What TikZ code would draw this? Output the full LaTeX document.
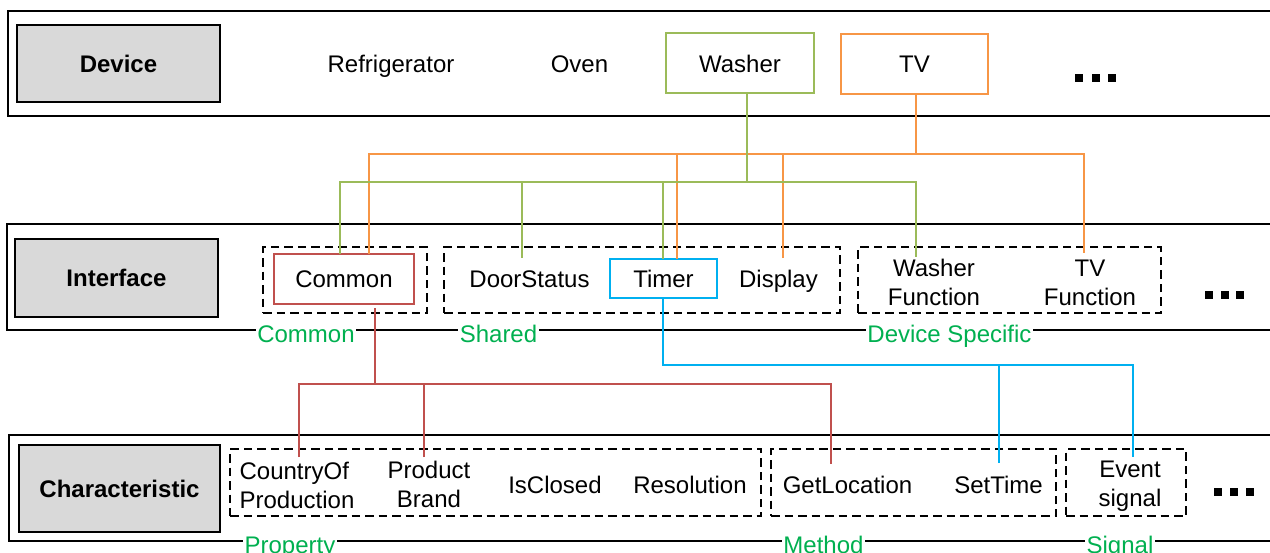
\documentclass[tikz,border=0pt]{standalone}
\usepackage{fontspec}
\setmainfont{Liberation Sans}
\definecolor{lgreen}{HTML}{9BBB59}
\definecolor{lorange}{HTML}{F79646}
\definecolor{lred}{HTML}{C0504D}
\definecolor{lblue}{HTML}{00B0F0}
\definecolor{tgreen}{HTML}{00B050}
\definecolor{lgray}{HTML}{D9D9D9}
\begin{document}
\begin{tikzpicture}[x=1pt,y=-1pt,
  every node/.style={inner sep=0pt, outer sep=0pt, font=\fontsize{24}{29}\selectfont},
  band/.style={draw=black, line width=2pt, anchor=north west, minimum width=1300pt},
  layer/.style={draw=black, fill=lgray, line width=2pt, font=\fontsize{24}{29}\selectfont\bfseries},
  devbox/.style={draw=#1, line width=2pt, anchor=base},
  group/.style={draw=black, dash pattern=on 8.5pt off 5pt, line width=1.8pt, minimum height=66pt},
  word/.style={anchor=base},
  twoline/.style={anchor=north, align=center},
  tag/.style={anchor=base, fill=white, text=tgreen, inner xsep=1.5pt},
  dotsq/.style={fill=black, minimum size=8pt},
  gline/.style={lgreen, line width=2.5pt},
  oline/.style={lorange, line width=2.5pt},
  rline/.style={lred, line width=2.5pt},
  bline/.style={lblue, line width=2.5pt}
]
\useasboundingbox (0,0) rectangle (1270,552);
\clip (0,0) rectangle (1270,552);

% ---- layer bands ----
\node[band, minimum height=105pt] (devband) at (8,11) {};
\node[band, minimum height=106pt] (ifband) at (7,224) {};
\node[band, minimum height=106pt] (chband) at (9,435) {};

% ---- layer titles ----
\node[layer, minimum width=203pt, minimum height=77pt] (devlayer) at (118.5,63.5) {Device};
\node[layer, minimum width=203pt, minimum height=78pt] (iflayer) at (116.5,278) {Interface};
\node[layer, minimum width=201pt, minimum height=87pt] (chlayer) at (119.5,488.5) {Characteristic};

% ---- devices ----
\node[word] (fridge) at (391,72) {Refrigerator};
\node[word] (oven) at (579.5,72) {Oven};
\node[devbox=lgreen, minimum width=148pt, minimum height=60pt] (washer) at (740,72) {Washer};
\node[devbox=lorange, minimum width=147pt, minimum height=60pt] (tv) at (914.5,72) {TV};
\node[dotsq] (dd1) at (1079,78) {};
\node[dotsq] (dd2) at (1095.5,78) {};
\node[dotsq] (dd3) at (1112,78) {};

% ---- interface groups ----
\node[group, minimum width=164pt] (commonG) at (345,280) {};
\node[group, minimum width=396pt] (sharedG) at (642,280) {};
\node[group, minimum width=303pt] (specG) at (1009.5,280) {};

\node[draw=lred, line width=2pt, minimum width=140pt, minimum height=50pt] (common) at (344,279) {Common};
\node[word] (door) at (529.5,287) {DoorStatus};
\node[draw=lblue, line width=2pt, minimum width=107pt, minimum height=39pt] (timer) at (663.5,278.5) {Timer};
\node[word] (display) at (778.5,287) {Display};
\node[twoline] (washf) at (934,259.6) {Washer\\Function};
\node[twoline] (tvf) at (1090,259.6) {TV\\Function};
\node[dotsq] (id1) at (1209,295) {};
\node[dotsq] (id2) at (1224.5,295) {};
\node[dotsq] (id3) at (1240,295) {};

% ---- characteristic groups ----
\node[group, minimum width=531pt, minimum height=67pt] (propG) at (495.5,482.5) {};
\node[group, minimum width=285pt, minimum height=67pt] (methG) at (913.5,482.5) {};
\node[group, minimum width=120pt, minimum height=67pt] (sigG) at (1126,482.5) {};

\node[twoline, align=left] (country) at (297,462.6) {CountryOf\\Production};
\node[twoline] (brand) at (429,461.6) {Product\\Brand};
\node[word] (closed) at (555,493) {IsClosed};
\node[word] (resol) at (690,493) {Resolution};
\node[word] (getloc) at (847.5,493) {GetLocation};
\node[word] (settime) at (998.5,493) {SetTime};
\node[twoline] (event) at (1130,460.6) {Event\\signal};
\node[dotsq] (cd1) at (1218,492) {};
\node[dotsq] (cd2) at (1234,492) {};
\node[dotsq] (cd3) at (1250,492) {};

% ---- bus levels ----
\coordinate (obus) at (916,154);
\coordinate (gbus) at (747,182);
\coordinate (bbus) at (663,365);
\coordinate (rbus) at (375,384);

% ---- connector end points ----
\coordinate (oSrc) at ([xshift=1.5pt]tv.south);
\coordinate (oCommon) at ([shift={(25,0)}]common.north);
\coordinate (oTimer) at ([shift={(13.5,0)}]timer.north);
\coordinate (oDisp) at ([shift={(4.5,-11.4)}]display.north);
\coordinate (oTV) at ([shift={(-6,-6.6)}]tvf.north);

\coordinate (gSrc) at ([xshift=7pt]washer.south);
\coordinate (gCommon) at ([shift={(-4,0)}]common.north);
\coordinate (gDoor) at ([shift={(-7.5,-12.5)}]door.north);
\coordinate (gTimer) at ([shift={(-0.5,0)}]timer.north);
\coordinate (gWash) at ([shift={(-18,-2.6)}]washf.north);

\coordinate (rSrc) at ([shift={(31,4)}]common.south);
\coordinate (rCountry) at ([shift={(2,-5.6)}]country.north);
\coordinate (rBrand) at ([shift={(-5,-4.6)}]brand.north);
\coordinate (rGet) at ([shift={(-16.5,-11.5)}]getloc.north);

\coordinate (bSrc) at ([shift={(-0.5,0)}]timer.south);
\coordinate (bSet) at ([shift={(0.5,-12.5)}]settime.north);
\coordinate (bEvent) at ([shift={(3,-3.6)}]event.north);

% ---- TV links (orange) ----
\draw[oline] (oSrc) -- (oSrc |- obus);
\draw[oline] (oCommon) -- (oCommon |- obus) -- (oTV |- obus) -- (oTV);
\draw[oline] (oTimer) -- (oTimer |- obus);
\draw[oline] (oDisp) -- (oDisp |- obus);

% ---- Washer links (green) ----
\draw[gline] (gSrc) -- (gSrc |- gbus);
\draw[gline] (gCommon) -- (gCommon |- gbus) -- (gWash |- gbus) -- (gWash);
\draw[gline] (gDoor) -- (gDoor |- gbus);
\draw[gline] (gTimer) -- (gTimer |- gbus);

% ---- Common links (red) ----
\draw[rline] (rSrc) -- (rSrc |- rbus);
\draw[rline] (rCountry) -- (rCountry |- rbus) -- (rGet |- rbus) -- (rGet);
\draw[rline] (rBrand) -- (rBrand |- rbus);

% ---- Timer links (blue) ----
\draw[bline] (bSrc) -- (bSrc |- bbus) -- (bEvent |- bbus) -- (bEvent);
\draw[bline] (bSet) -- (bSet |- bbus);

% ---- group captions ----
\node[tag] (tCommon) at (306,342) {Common};
\node[tag] (tShared) at (498.5,342) {Shared};
\node[tag] (tSpec) at (949.5,342) {Device Specific};
\node[tag] (tProp) at (290,553) {Property};
\node[tag] (tMeth) at (823.5,553) {Method};
\node[tag] (tSig) at (1120,553) {Signal};
\end{tikzpicture}
\end{document}
